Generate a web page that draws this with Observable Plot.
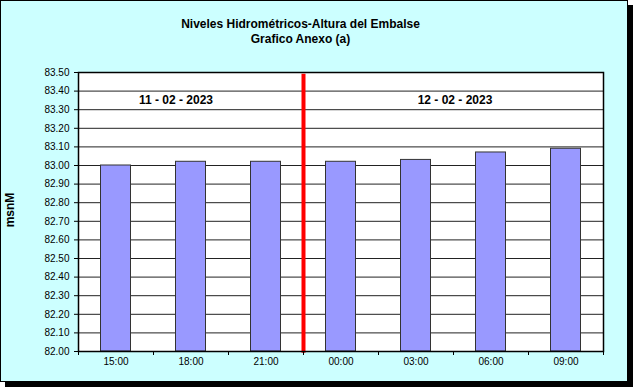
<!DOCTYPE html>
<html><head><meta charset="utf-8">
<script src="https://cdn.jsdelivr.net/npm/d3@7"></script>
<script src="https://cdn.jsdelivr.net/npm/@observablehq/plot@0.6"></script>
<style>
html,body{margin:0;padding:0;background:#fff;}
#chart{position:relative;width:633px;height:387px;font-family:Arial,"Liberation Sans",sans-serif;overflow:hidden;}
#box{position:absolute;left:0;top:0;width:626px;height:380px;background:#CCFFFF;border:1px solid #000;box-shadow:5px 5px 0 #000;}
#title{position:absolute;left:0;top:17px;width:601px;text-align:center;font-weight:bold;font-size:12px;line-height:15px;color:#000;}
#ylab{position:absolute;left:10px;top:210px;transform:translate(-50%,-50%) rotate(-90deg);font-weight:bold;font-size:12px;color:#000;white-space:nowrap;}
#plot{position:absolute;left:0;top:0;}
</style>
</head><body>
<div id="chart">
  <div id="box"></div>
  <div id="title">Niveles Hidrométricos-Altura del Embalse<br>Grafico Anexo (a)</div>
  <div id="ylab">msnM</div>
  <div id="plot"></div>
</div>
<script>
const times = ["15:00","18:00","21:00","00:00","03:00","06:00","09:00"];
const levels = [83.00, 83.02, 83.02, 83.02, 83.03, 83.07, 83.09];
const yTicks = [82.0,82.1,82.2,82.3,82.4,82.5,82.6,82.7,82.8,82.9,83.0,83.1,83.2,83.3,83.4,83.5];
const xBounds = [-0.5,0.5,1.5,2.5,3.5,4.5,5.5,6.5];
const dayLabels = ["11 - 02 - 2023","12 - 02 - 2023"];
const dayLabelPos = [0.8, 4.52];
const dayLabelLevel = 83.35;
const dayDivider = 2.5;

const data = times.map((t, i) => ({i, t, v: levels[i]}));
const days = dayLabels.map((s, k) => ({s, x: dayLabelPos[k], y: dayLabelLevel}));

const chart = Plot.plot({
  width: 633, height: 387,
  marginLeft: 78, marginRight: 30, marginTop: 72, marginBottom: 36,
  style: {background: "transparent", fontFamily: "Arial, 'Liberation Sans', sans-serif", fontSize: "10px", color: "#000"},
  x: {type: "linear", domain: [-0.5, 6.5]},
  y: {domain: [82, 83.5]},
  marks: [
    Plot.frame({fill: "#fff"}),
    Plot.ruleY(yTicks, {stroke: "#222", strokeWidth: 1}),
    Plot.rectY(data, {x1: d => d.i - 0.2, x2: d => d.i + 0.2, y1: 82, y2: "v", fill: "#9999FF", stroke: "#333", strokeWidth: 1}),
    Plot.ruleX([dayDivider], {y1: 83.49, y2: 81.99, stroke: "#FF0000", strokeWidth: 4}),
    Plot.text(days, {x: "x", y: "y", text: "s", fontWeight: "bold", fontSize: 12, fill: "#000"}),
    Plot.frame({stroke: "#000", strokeWidth: 1.5}),
    Plot.axisY(yTicks, {tickFormat: d => d.toFixed(2), tickSize: 4, tickPadding: 5, label: null, fontSize: 10}),
    Plot.axisX(xBounds, {tickSize: 4, tickFormat: () => "", label: null}),
    Plot.axisX(data.map(d => d.i), {tickSize: 0, tickPadding: 6, tickFormat: i => times[i], label: null, fontSize: 10})
  ]
});
document.getElementById("plot").appendChild(chart);
</script>
</body></html>
